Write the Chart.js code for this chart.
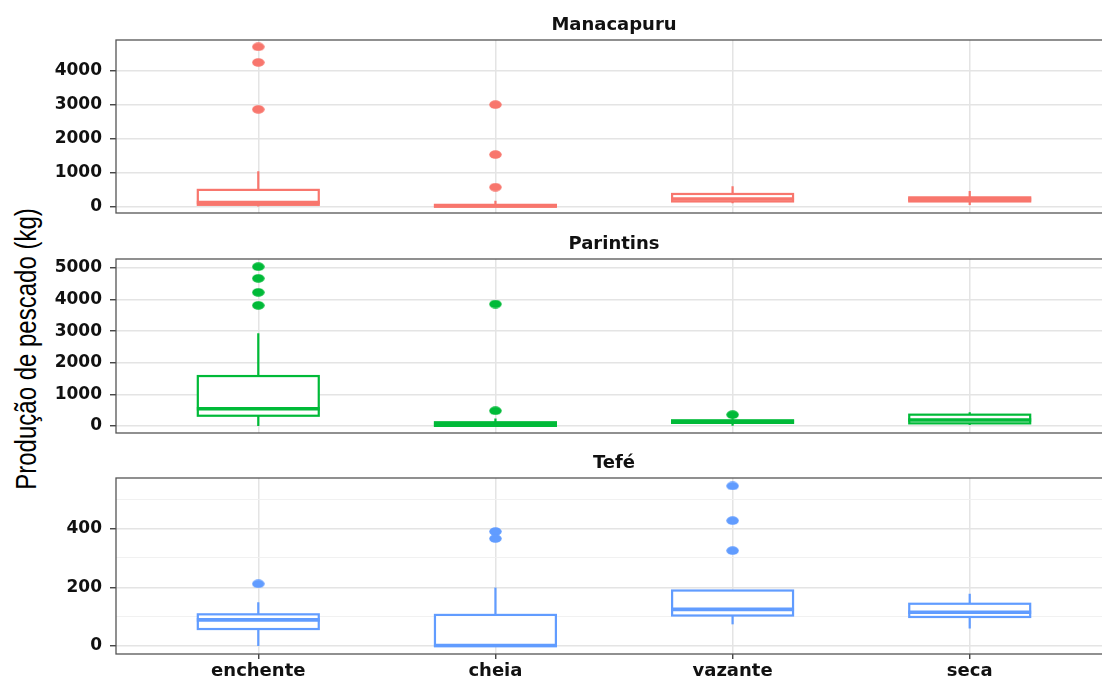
<!DOCTYPE html>
<html>
<head>
<meta charset="utf-8">
<script src="https://cdn.jsdelivr.net/npm/chart.js@4.4.0/dist/chart.umd.min.js"></script>
<style>
  html, body { margin: 0; padding: 0; background: #fff; }
  body { width: 1102px; height: 677px; position: relative; overflow: hidden; }
  .panel { position: absolute; left: 0; width: 1120px; }
  #ytitle {
    position: absolute; left: 26px; top: 349px;
    transform: translate(-50%, -50%) rotate(-90deg) scaleY(1.2);
    font: 24px 'Liberation Sans', Arial, sans-serif;
    white-space: nowrap; color: #000;
  }
</style>
</head>
<body>
<div id="ytitle">Produção de pescado (kg)</div>
<div class="panel" style="top:0"><canvas id="c-mana" width="1120" height="220"></canvas></div>
<div class="panel" style="top:220px"><canvas id="c-pari" width="1120" height="220"></canvas></div>
<div class="panel" style="top:440px"><canvas id="c-tefe" width="1120" height="237"></canvas></div>

<script>
// ============================================================
// Data
// ============================================================
const SEASONS = ['enchente', 'cheia', 'vazante', 'seca'];

// Manacapuru
const manaLow   = [0, 0, 100, 45];
const manaQ1    = [50, 0, 150, 150];
const manaMed   = [120, 15, 220, 210];
const manaQ3    = [490, 50, 370, 270];
const manaHigh  = [1040, 170, 600, 460];
const manaOut   = [[4700, 4240, 2860], [3000, 1530, 570], [], []];
const manaTicks = [0, 1000, 2000, 3000, 4000];
const manaMinor = [500, 1500, 2500, 3500, 4500];

// Parintins
const pariLow   = [0, 0, 10, 30];
const pariQ1    = [326, 5, 100, 85];
const pariMed   = [548, 50, 140, 190];
const pariQ3    = [1582, 120, 180, 360];
const pariHigh  = [2933, 240, 250, 440];
const pariOut   = [[5042, 4673, 4230, 3819], [3860, 485], [360], []];
const pariTicks = [0, 1000, 2000, 3000, 4000, 5000];
const pariMinor = [500, 1500, 2500, 3500, 4500];

// Tefé
const tefeLow   = [0, 0, 74, 60];
const tefeQ1    = [58, 0, 104, 99];
const tefeMed   = [89, 2, 125, 115];
const tefeQ3    = [108, 106, 189, 144];
const tefeHigh  = [149, 199, 189, 178];
const tefeOut   = [[212], [390, 366], [545, 427, 325], []];
const tefeTicks = [0, 200, 400];
const tefeMinor = [100, 300, 500];

// ============================================================
// Styling
// ============================================================
const FONT = "'DejaVu Sans', 'Liberation Sans', sans-serif";
const GRID_MAJOR = '#e4e4e4';
const GRID_MINOR = '#efefef';
const AXIS_DARK = '#333333';
const BOX_HALF = 0.255;

function ellipseDot(color) {
  const c = document.createElement('canvas');
  c.width = 13; c.height = 9;
  const g = c.getContext('2d');
  g.fillStyle = color;
  g.beginPath();
  g.ellipse(6.5, 4.5, 6.2, 4.3, 0, 0, Math.PI * 2);
  g.fill();
  return c;
}

// box + whiskers + median, drawn through the chart's own scales
const boxPlugin = {
  id: 'boxes',
  beforeDatasetsDraw(chart, args, o) {
    const xs = chart.scales.x, ys = chart.scales.y, ctx = chart.ctx;
    ctx.save();
    ctx.strokeStyle = o.color;
    o.q1.forEach((q1, i) => {
      const cx = xs.getPixelForValue(i);
      const x0 = xs.getPixelForValue(i - BOX_HALF);
      const x1 = xs.getPixelForValue(i + BOX_HALF);
      const yLo = ys.getPixelForValue(o.low[i]);
      const yQ1 = ys.getPixelForValue(q1);
      const yMed = ys.getPixelForValue(o.med[i]);
      const yQ3 = ys.getPixelForValue(o.q3[i]);
      const yHi = ys.getPixelForValue(o.high[i]);
      ctx.lineWidth = 2.2;
      ctx.beginPath();
      ctx.moveTo(cx, yHi); ctx.lineTo(cx, yQ3);
      ctx.moveTo(cx, yQ1); ctx.lineTo(cx, yLo);
      ctx.stroke();
      ctx.fillStyle = '#fff';
      ctx.fillRect(x0, yQ3, x1 - x0, yQ1 - yQ3);
      ctx.strokeRect(x0, yQ3, x1 - x0, yQ1 - yQ3);
      ctx.lineWidth = 3.6;
      ctx.beginPath();
      ctx.moveTo(x0 - 1, yMed); ctx.lineTo(x1 + 1, yMed);
      ctx.stroke();
    });
    ctx.restore();
  },
};

const borderPlugin = {
  id: 'panelBorder',
  afterDraw(chart) {
    const a = chart.chartArea, ctx = chart.ctx;
    ctx.save();
    ctx.strokeStyle = '#555';
    ctx.lineWidth = 1.3;
    ctx.strokeRect(a.left, a.top, a.right - a.left, a.bottom - a.top);
    ctx.restore();
  },
};

// ============================================================
// One facet panel
// ============================================================
function makePanel(id, p) {
  const isMajor = v => p.ticks.includes(v);
  const outliers = p.out.flatMap((vals, i) => vals.map(v => ({ x: i, y: v })));
  new Chart(document.getElementById(id), {
    type: 'scatter',
    data: {
      datasets: [{
        data: outliers,
        pointStyle: ellipseDot(p.color),
        pointRadius: 6,
      }],
    },
    options: {
      responsive: false,
      animation: false,
      layout: { padding: { left: 0, right: 8, top: 0, bottom: p.bottomPad } },
      plugins: {
        legend: { display: false },
        tooltip: { enabled: false },
        title: {
          display: true,
          text: p.title,
          fullSize: false,
          color: '#111',
          font: { family: FONT, size: 18, weight: 'bold' },
          padding: { top: p.titleTop, bottom: p.titleBottom },
        },
        boxes: {
          color: p.color,
          low: p.low, q1: p.q1, med: p.med, q3: p.q3, high: p.high,
        },
      },
      scales: {
        x: {
          type: 'linear',
          min: -0.6,
          max: 3.6,
          afterBuildTicks: s => { s.ticks = SEASONS.map((_, i) => ({ value: i })); },
          afterFit: s => {
            s.height = p.showX ? 23 : 0;
            s.paddingLeft = 0; s.paddingRight = 0;
          },
          border: { display: false },
          grid: {
            color: GRID_MAJOR,
            lineWidth: 1.5,
            drawTicks: p.showX,
            tickLength: 5,
            tickColor: AXIS_DARK,
            tickWidth: 1.3,
          },
          ticks: {
            display: p.showX,
            padding: 2,
            color: '#111',
            font: { family: FONT, size: 18, weight: 'bold' },
            callback: v => SEASONS[v] ?? '',
          },
        },
        y: {
          min: p.min,
          max: p.max,
          afterBuildTicks: s => {
            s.ticks = [...p.ticks, ...p.minor].sort((a, b) => a - b).map(v => ({ value: v }));
          },
          afterFit: s => {
            s.width = 116;
            s.paddingTop = 0; s.paddingBottom = 0;
          },
          border: { display: false },
          grid: {
            color: c => (c.tick && isMajor(c.tick.value) ? GRID_MAJOR : GRID_MINOR),
            lineWidth: c => (c.tick && isMajor(c.tick.value) ? 1.5 : 0.9),
            tickLength: 6,
            tickColor: c => (c.tick && isMajor(c.tick.value) ? AXIS_DARK : 'rgba(0,0,0,0)'),
            tickWidth: 1.3,
          },
          ticks: {
            padding: 8,
            color: '#111',
            font: { family: FONT, size: 17, weight: 'bold' },
            callback: v => (isMajor(v) ? String(v) : ''),
          },
        },
      },
    },
    plugins: [boxPlugin, borderPlugin],
  });
}

makePanel('c-mana', {
  title: 'Manacapuru', color: '#F8766D',
  low: manaLow, q1: manaQ1, med: manaMed, q3: manaQ3, high: manaHigh, out: manaOut,
  ticks: manaTicks, minor: manaMinor, min: -190, max: 4900,
  titleTop: 14.2, titleBottom: 4.2, bottomPad: 7, showX: false,
});

makePanel('c-pari', {
  title: 'Parintins', color: '#00BA38',
  low: pariLow, q1: pariQ1, med: pariMed, q3: pariQ3, high: pariHigh, out: pariOut,
  ticks: pariTicks, minor: pariMinor, min: -220, max: 5285,
  titleTop: 13.2, titleBottom: 4.2, bottomPad: 7, showX: false,
});

makePanel('c-tefe', {
  title: 'Tefé', color: '#619CFF',
  low: tefeLow, q1: tefeQ1, med: tefeMed, q3: tefeQ3, high: tefeHigh, out: tefeOut,
  ticks: tefeTicks, minor: tefeMinor, min: -27, max: 572,
  titleTop: 12.2, titleBottom: 4.2, bottomPad: 0, showX: true,
});
</script>
</body>
</html>
